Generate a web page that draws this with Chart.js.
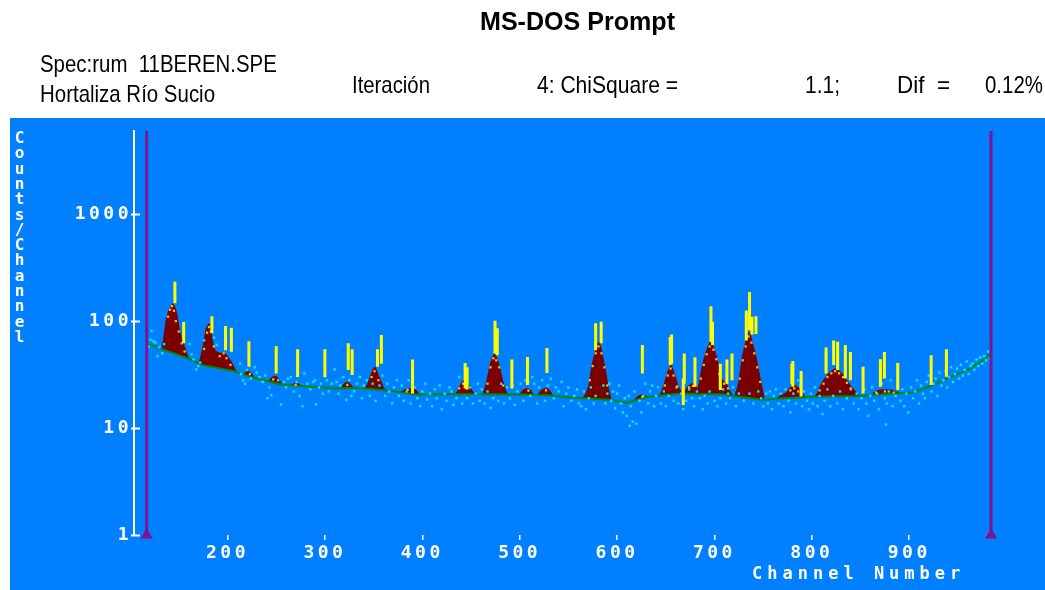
<!DOCTYPE html>
<html>
<head>
<meta charset="utf-8">
<script src="https://cdn.jsdelivr.net/npm/chart.js@4.4.0/dist/chart.umd.min.js"></script>
<style>
html,body{margin:0;padding:0;background:#fff;width:1045px;height:590px;overflow:hidden;}
#plotbg{position:absolute;left:10px;top:118px;width:1035px;height:472px;background:#0080ff;}
#wrap{position:absolute;left:0;top:0;width:1045px;height:590px;}
.hd{position:absolute;font-family:"Liberation Sans Narrow","Arial Narrow","Liberation Sans",Arial,sans-serif;color:#000;white-space:pre;line-height:1;transform-origin:0 0;display:inline-block;}
#ytitle{position:absolute;left:11px;top:128px;color:#fff;font-family:"DejaVu Sans Mono",monospace;font-weight:bold;font-size:16px;line-height:1;writing-mode:vertical-lr;text-orientation:upright;letter-spacing:-3.7px;}
#xtitle{position:absolute;left:752px;top:565px;color:#fff;font-family:"DejaVu Sans Mono",monospace;font-weight:bold;font-size:17px;line-height:1;letter-spacing:5px;white-space:pre;}
</style>
</head>
<body>
<div id="plotbg"></div>
<div id="wrap"><canvas id="c" width="1045" height="590"></canvas></div>
<div id="ytitle">Counts/Channel</div>
<div id="xtitle">Channel Number</div>
<script>
// ---------------- DATA ----------------
const xTickValues = [200,300,400,500,600,700,800,900];
const yTickValues = [1,10,100,1000];
const roiMarkers = [117, 984];

const baselineCh  = [117,132,159,173,207,228,255,276,310,331,367,394,428,463,497,531,552,595,610,629,646,667,683,708,724,752,766,800,850,870,904,918,939,960,973,984];
const baselineVal = [62,55,45,39,34,29.5,25.6,24.7,23.5,23.8,22.3,20.6,20.7,20.7,20.6,20.3,19.3,18.3,17.2,19.3,20.3,21,20.7,20.7,19.6,18.3,18.9,19.6,19.9,20.6,21.5,23.9,29.2,35,41.5,50];

const fitCh = [130,133,135,137,139,141,143,144,146,148,150,151,153,156,159,162, 166,
  170,172,175,178,180,181,182,183.5,185,187,190,193,197,200,204,208,211, 213,
  216,219,222,225,228, 235,
  242,245,248,251,254,256, 260,
  265,268,271,274,276, 300,
  316,319,322,325,328,331, 336,
  341,344,346,348,350,351,353,355,357,360,362, 370,
  378,382,386,390,394,397, 415,
  433,436,439,442,445,448,451,454, 458,
  462,464,466,468,470,472,474,476,478,480,482,484,486,488, 495,
  500,503,507,511,514, 516,
  518,522,526,530,534, 550,
  565,568,571,574,576,578,580,581,583,584,586,588,590,592,594, 605,
  617,620,624,628,632, 640,
  644,647,649,651,653,655.6,657,659.7,662,664.8,666, 668,
  669,672,676,680,683,685,687,689,692,694,696,697.5,699,701,703,705,707,710,713,716,718, 719.5,
  721,723,725,727,728.3,730,731.7,733.5,735,737,738.5,740,742,744,745.3,747,748.8,751, 758,
  764,767,770,774,777,781,785,789,793, 798,
  803,806,809,812,815,817,820,824,827,831,834,838,841,845,849, 855,
  861,865,870,876,882,886,890];
const fitVal = [52,56,75,101,120,133,142,146,135,118,90,79,68,57,47,42, null,
  39,44,58,85,93,95,90,76,62,53.5,51,50,50.6,47,41.5,35,32.5, null,
  31,33.5,34,32,29, null,
  27,29.5,30.5,30,27.5,25, null,
  24.8,26,26.3,25.5,24.5, null,
  23.3,25.5,26.8,26.5,24.5,23.5, null,
  23,26,29,33,36,37.4,35,31,28,24,22.8, null,
  21.8,22.8,23.3,23.4,22.5,20.5, null,
  20.5,22,25,28,27,25,22.5,20.5, null,
  20.5,23,27,33,40,46,49.2,46,41.5,35,29,25,22,20.5, null,
  20.5,22.5,23.4,22.8,20.5, null,
  20.3,22.5,23.5,23,20.2, null,
  19,21,25,37.4,45,53,60,64,58,53.5,43,34.9,27,21.5,18.5, null,
  17.5,19.4,20.4,20.3,19.5, null,
  20.2,23.5,27,31.3,35.5,38.9,36,30.2,26,22.7,21, null,
  21,24,26,25.5,23,28,36,43,53.5,60,64,62,57.6,50,43,34,29,27,25,22,20.5, null,
  20,23,27,36,44.8,53,62,70,79,74,66,57,49.8,40,34.9,28.5,24.4,19, null,
  18.6,20,20.5,21.5,23.5,25.3,24.5,22,19.4, null,
  19.6,21.5,25,28,30.5,32.4,34,36,35,32.4,29.5,26,24,21.9,20, null,
  20.2,22,22.7,22.8,22.6,22,21];

const markCh = [146,155,184,198,204,222,250,272,300,324,328,354,358,390,444,446,474.7,477,492,508,528,578,583.7,626,654.6,656,668,669,680,696.4,698,706,712.8,718,732.7,736,738.5,742.6,779.5,780.5,789,814.6,822.4,826.5,834.4,839.6,852.6,870.4,874.5,888.2,922.5,938.2];
const markLo = [147,62,77,53.5,51.6,37.4,32.4,30,29.8,34.9,31.3,37.4,40,21,23.4,23,49.7,48,23.4,25.3,32.8,53.5,62,32.4,38.9,40,16.4,26,24.4,64,59.7,22.7,26,28,66,82,75,76,26,24.4,19.7,32.4,38.9,34.9,29,28,21,24.4,29,22.7,25.3,30.2];
const markHi = [233,98,111,90,86.7,65,58.5,54.5,54.5,62,54.5,54.5,74,43.8,40.6,37,101,86,43.8,46.3,56.2,95.5,98.5,59.7,71,75,29,49.8,46,138,98.5,40,43.8,49.8,126,187,110,111,40,42.3,34.2,56.6,66,64,59.7,51.5,37.4,44,51.5,40.6,48,54.5];

const countCh = [119,121,122,124,126,128,130,133,135,161,163,165,168,170,172,176,186,189,
  213,214,216,218,220,224,228,230,233,236,239,241,243,245,
  252,255,258,260,262,265,268,271,274,277,279,282,285,288,290,291,294,296,298,302,304,
  307,310,312,314,316,319,322,325,327,330,333,336,338,340,343,
  346,349,352,356,359,362,364,366,369,371,374,376,379,381,384,386,388,392,395,398,400,
  403,405,408,410,413,415,418,420,423,425,428,430,432,435,438,441,446,449,452,455,457,459,
  461,464,467,470,473,478,481,484,487,490,493,495,498,501,504,506,509,511,513,515,518,520,523,526,529,532,535,537,540,543,545,548,550,553,556,559,561,
  563,566,568,571,573,576,578,586,588,590,592,594,596,598,600,602,604,606,608,610,612,613,614,616,618,620,623,625,627,629,632,634,636,638,640,642,
  645,648,650,653,658,661,663,666,668,671,674,677,679,682,685,688,690,693,695,
  700,703,706,709,712,714,716,719,722,725,730,736,740,745,748,750,753,755,757,759,761,763,766,768,
  771,773,776,778,781,784,786,788,790,792,795,797,799,801,803,806,808,811,813,816,819,822,826,829,832,836,840,843,846,848,851,854,856,858,860,
  862,864,867,869,872,875,876,877,879,881,883,886,888,891,893,895,897,899,902,904,906,908,910,912,914,916,918,920,923,925,927,929,931,933,935,937,939,941,943,945,947,949,951,953,955,957,959,961,963,965,967,969,971,973,975,977,979,981,983];
const countVal = [58,67,81,65,63,47,57,50,61,61,49,44,35.4,38,41,66,70,60,
  40,32,28,26,35,29,37,33,30,27,31,19,24,20.3,
  28,16.6,27,24,29,30,22,27,20,16,32.4,26,23,27,28,16.7,24,26,21,28,22,
  26,35.4,27,21,25,30,18.3,28,20,22,26,30,19,25,28,
  20,26,18,25,31,20,26,22,17,24,28,20,25,18,22,28,17,24,19,16,22,
  26,18.5,21,16,23,19,25,15,21,18,24,22,16.5,19,30,17,19,24,17,21,26,18,
  23,17,22,15.5,19,18,26,17,24,19,25,16.5,22,26,18,28,27,20,30,26,17,24,28,18,25,29,19,24,22,27,16,21,24,18,20,23,17,
  16,22,15,19,24,17,20,25,17,21,26,18,22,15.3,21,25,17,14,19,13,20,10.5,16,11.5,22,11,18,14,20,26,17,22,25,16,20,24,
  17,22,16,20,18,24,17,21,15,18,23,19,16,22,19,15,20,17,22,
  18,16,19,23,17,21,19,24,16,21,18,21,17,22,19,16,21,17,22,15,20,23,17,21,
  16,23,18,14,21,17,28,25,16,22,18,15,21,17,24,16,20,13.5,18,23,16,20,17,22,15,19,23,17,21,15,19,23,17,13,20,
  24,18,21,15,26,19,10.8,17,22,28,16,20,25,18,23,16,21,14,24,19,22,28,17,25,21,19,27,31,22,26,29,20,33,25,28,34,24,30,37,27,32,36,29,39,31,35,42,32,38,40,35,44,38,46,40,47,43,52,45];

const peakPtCh  = [139,141,143,145,147,150,153,156,176,179,181,183,186,192,196,199,203,223,247,270,323,348,351,355,385,438,442,467,470,473,476,479,483,509,527,572,575,578,581,584,587,590,626,649,652,655,658,662,674,678,686,689,692,695,699,702,705,710,714,726,729,732,735,738,741,744,747,778,782,786,808,812,816,820,824,828,832,836,840,866,875,884];
const peakPtVal = [110,128,138,125,100,80,62,52,55,78,88,80,58,47,50,45,39,32,28.5,25.4,25.3,30,34,28,22.8,23.5,26,26,37,45,43,37,25,22.4,22.5,28,38,50,58,50,37,25,19.6,25,31,36,31,24.5,24,24.8,29,39,49,58,54,44,32,26,23.5,29,43,58,72,63,50,37,27,22.5,23.5,22,22.5,26,30,32.5,34,32.5,30,26.5,23.5,21.5,22,21.5];

// ---------------- BUILD ----------------
const pts = (xs, ys) => xs.map((x, i) => ({x: x, y: ys[i]}));
const markData = [];
markCh.forEach((c, i) => { markData.push({x:c, y:markLo[i]}, {x:c, y:markHi[i]}, {x:c, y:null}); });

const BLUE = '#0080ff';
const PURPLE = '#7d1592';
const MONO = '"DejaVu Sans Mono", "Liberation Mono", monospace';

const spacingPlugin = {
  id: 'spacing',
  beforeDraw(chart) { chart.ctx.letterSpacing = '3.5px'; }
};
const yTickPlugin = {
  id: 'yticks',
  afterDraw(chart) {
    const ctx = chart.ctx, ys = chart.scales.y, left = chart.chartArea.left;
    ctx.save();
    ctx.strokeStyle = '#fff';
    ctx.lineWidth = 2;
    yTickValues.forEach(v => {
      const py = Math.round(ys.getPixelForValue(v)) + 0.5;
      ctx.beginPath(); ctx.moveTo(left - 3, py); ctx.lineTo(left + 6, py); ctx.stroke();
    });
    ctx.restore();
  }
};

const datasets = [
  {label:'roiL', data:[{x:roiMarkers[0],y:1},{x:roiMarkers[0],y:6000}], borderColor:PURPLE, borderWidth:3, pointRadius:[4,0], pointStyle:'triangle', pointBackgroundColor:PURPLE, pointBorderColor:PURPLE, clip:false},
  {label:'roiR', data:[{x:roiMarkers[1],y:1},{x:roiMarkers[1],y:6000}], borderColor:PURPLE, borderWidth:3, pointRadius:[4,0], pointStyle:'triangle', pointBackgroundColor:PURPLE, pointBorderColor:PURPLE, clip:false},
  {label:'markers', data:markData, borderColor:'#ffff00', borderWidth:3, pointRadius:0, spanGaps:false, fill:false},
  {label:'peakCounts', data:pts(peakPtCh, peakPtVal), showLine:false, pointRadius:1.6, pointStyle:'rect', pointBackgroundColor:'#f2c200', pointBorderWidth:0},
  {label:'counts', data:pts(countCh, countVal), showLine:false, pointRadius:1.7, pointStyle:'rect', pointBackgroundColor:'#00e8ff', pointBorderWidth:0},
  {label:'background', data:pts(baselineCh, baselineVal), borderColor:'#008a00', borderWidth:2, pointRadius:0, fill:'start', backgroundColor:BLUE},
  {label:'fit', data:pts(fitCh, fitVal), borderColor:'#7a0000', borderWidth:1, pointRadius:0, spanGaps:false, fill:'start', backgroundColor:'#7a0000'}
];

new Chart(document.getElementById('c'), {
  type: 'line',
  data: { datasets: datasets },
  plugins: [spacingPlugin, yTickPlugin],
  options: {
    responsive: false,
    animation: false,
    devicePixelRatio: 1,
    events: [],
    layout: { padding: { top: 131, right: 15, left: 10, bottom: 0 } },
    elements: { line: { tension: 0 } },
    plugins: { legend: { display: false }, tooltip: { enabled: false } },
    scales: {
      x: {
        type: 'linear', min: 104, max: 1024,
        afterBuildTicks: s => { s.ticks = xTickValues.map(v => ({value: v})); },
        afterFit: s => { s.height = 55; },
        ticks: { color: '#fff', padding: 3, font: { family: MONO, weight: 'bold', size: 18 }, callback: v => String(v), maxRotation: 0 },
        grid: { display: true, drawOnChartArea: false, drawTicks: true, tickLength: 5, color: '#fff', lineWidth: 1.5 },
        border: { display: false }
      },
      y: {
        type: 'logarithmic', min: 1, max: 6000,
        afterBuildTicks: s => { s.ticks = yTickValues.map(v => ({value: v})); },
        afterFit: s => { s.width = 124; },
        ticks: { color: '#fff', padding: 2, font: { family: MONO, weight: 'bold', size: 18 }, callback: v => String(v) },
        grid: { display: false, drawTicks: false },
        border: { display: true, color: '#fff', width: 2 }
      }
    }
  }
});

// ---------------- HEADER TEXT ----------------
const headerTexts = [
  {text:'MS-DOS Prompt', x:480, y:9, w:195, size:25, bold:true},
  {text:'Spec:rum  11BEREN.SPE', x:40, y:52, w:237, size:24},
  {text:'Hortaliza Río Sucio', x:40, y:82, w:175, size:24},
  {text:'Iteración', x:352, y:73, w:78, size:24},
  {text:'4: ChiSquare =', x:537, y:73, w:141, size:24},
  {text:'1.1;', x:805, y:73, w:35, size:24},
  {text:'Dif  =', x:897, y:73, w:53, size:24},
  {text:'0.12%', x:985, y:73, w:58, size:24}
];
headerTexts.forEach(h => {
  const d = document.createElement('span');
  d.className = 'hd';
  d.textContent = h.text;
  d.style.left = h.x + 'px';
  d.style.top = h.y + 'px';
  d.style.fontSize = h.size + 'px';
  if (h.bold) d.style.fontWeight = 'bold';
  document.body.appendChild(d);
  const w = d.getBoundingClientRect().width;
  if (w > 0) d.style.transform = 'scaleX(' + (h.w / w).toFixed(3) + ')';
});
</script>
</body>
</html>
